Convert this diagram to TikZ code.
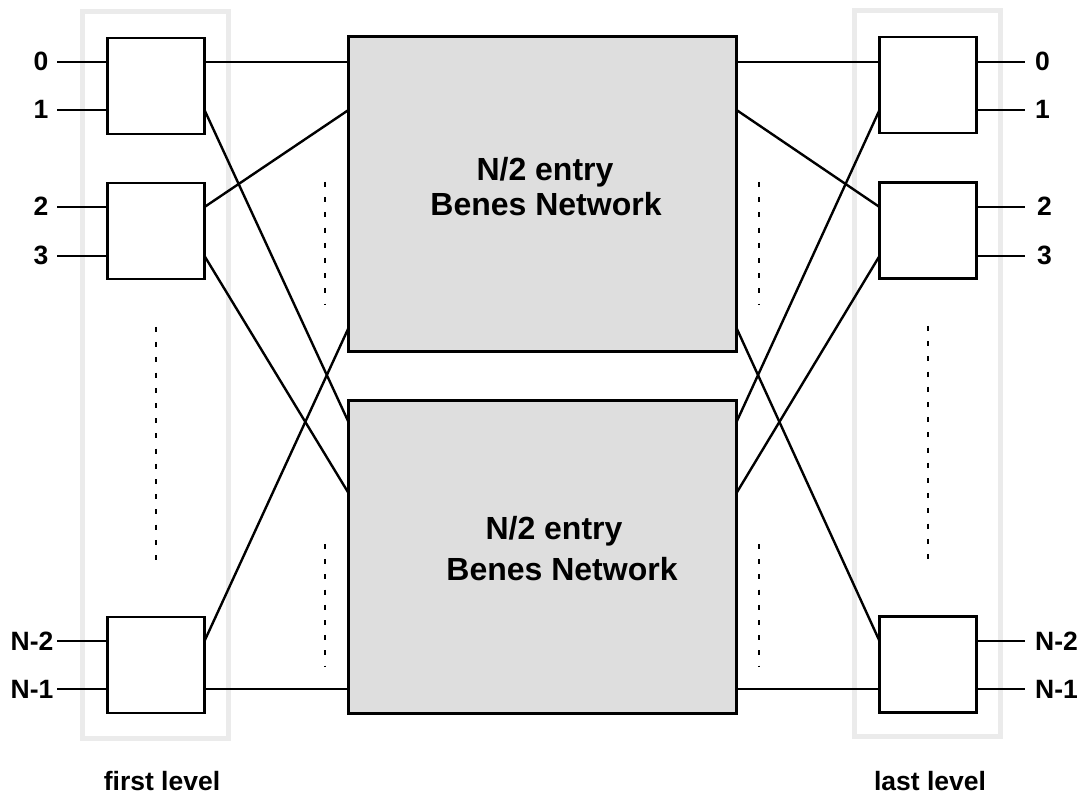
\documentclass[tikz,border=0pt]{standalone}
\usepackage{fontspec}
\setmainfont{Liberation Sans}
\begin{document}
\begin{tikzpicture}[x=1pt,y=-1pt,
  sw/.style={draw,line width=2.6pt,fill=white,minimum width=97pt,minimum height=96pt,inner sep=0pt,outer sep=0pt},
  big/.style={draw,line width=3pt,fill=black!13,minimum width=388pt,inner sep=0pt,outer sep=0pt},
  band/.style={draw=black!8,line width=5pt,inner sep=0pt,outer sep=0pt},
  wire/.style={line width=2.4pt},
  dots/.style={line width=2.6pt,dash pattern=on 5pt off 10.2pt},
  lbl/.style={font=\bfseries\fontsize{26.5}{31}\selectfont,inner sep=0pt,anchor=base},
  btxt/.style={font=\bfseries\fontsize{32}{37}\selectfont,inner sep=0pt,anchor=base}]
\useasboundingbox (0,0) rectangle (1082,794);

% level bands
\node[band,minimum width=146pt,minimum height=726pt] (bandL) at (155,375) {};
\node[band,minimum width=146pt,minimum height=726pt] (bandR) at (927.5,373.5) {};

% big networks
\node[big,minimum height=315pt] (B1) at (542.5,194.5) {};
\node[big,minimum height=313pt] (B2) at (542.5,556.5) {};
\node[btxt] (t1a) at (545,181) {N/2 entry};
\node[btxt] (t1b) at (546,216) {Benes Network};
\node[btxt] (t2a) at (554,539) {N/2 entry};
\node[btxt] (t2b) at (562,580) {Benes Network};

% switches
\node[sw] (L0) at (156,86) {};
\node[sw] (L1) at (156,231) {};
\node[sw] (LN) at (156,665) {};
\node[sw] (R0) at (928,85) {};
\node[sw] (R1) at (928,230.5) {};
\node[sw] (RN) at (928,664.5) {};

% terminal coordinates
\coordinate (i0) at (57,62);   \coordinate (i1) at (57,110);
\coordinate (i2) at (57,207);  \coordinate (i3) at (57,256);
\coordinate (iA) at (57,641);  \coordinate (iB) at (57,689);
\coordinate (o0) at (1025,62);   \coordinate (o1) at (1025,110);
\coordinate (o2) at (1025,207);  \coordinate (o3) at (1025,256);
\coordinate (oA) at (1025,641);  \coordinate (oB) at (1025,689);

% input / output wires
\foreach \p/\s in {i0/L0,i1/L0,i2/L1,i3/L1,iA/LN,iB/LN}
  \draw[wire] (\p) -- (\s.west |- \p);
\foreach \p/\s in {o0/R0,o1/R0,o2/R1,o3/R1,oA/RN,oB/RN}
  \draw[wire] (\s.east |- \p) -- (\p);

% first level to networks
\draw[wire] (L0.east |- 0,62)  -- (B1.west |- 0,62);
\draw[wire] (L0.east |- 0,110) -- (B2.west |- 0,422);
\draw[wire] (L1.east |- 0,207) -- (B1.west |- 0,110);
\draw[wire] (L1.east |- 0,256) -- (B2.west |- 0,493);
\draw[wire] (LN.east |- 0,641) -- (B1.west |- 0,328);
\draw[wire] (LN.east |- 0,689) -- (B2.west |- 0,689);

% networks to last level
\draw[wire] (B1.east |- 0,62)  -- (R0.west |- 0,62);
\draw[wire] (B1.east |- 0,110) -- (R1.west |- 0,207);
\draw[wire] (B1.east |- 0,328) -- (RN.west |- 0,641);
\draw[wire] (B2.east |- 0,422) -- (R0.west |- 0,110);
\draw[wire] (B2.east |- 0,493) -- (R1.west |- 0,256);
\draw[wire] (B2.east |- 0,689) -- (RN.west |- 0,689);

% dotted continuation marks
\draw[dots] (156,327) -- (156,570);
\draw[dots] (928,326) -- (928,569);
\draw[dots] (325,182) -- (325,305);
\draw[dots] (325,544) -- (325,667);
\draw[dots] (759,182) -- (759,305);
\draw[dots] (759,544) -- (759,667);

% port labels
\node[lbl] (l0) at (41,71) {0};
\node[lbl] (l1) at (41,119) {1};
\node[lbl] (l2) at (41,216) {2};
\node[lbl] (l3) at (41,265) {3};
\node[lbl] (lA) at (32,650) {N-2};
\node[lbl] (lB) at (32,698) {N-1};
\node[lbl,anchor=base west] (r0) at (1035,71) {0};
\node[lbl,anchor=base west] (r1) at (1035,119) {1};
\node[lbl,anchor=base west] (r2) at (1037,216) {2};
\node[lbl,anchor=base west] (r3) at (1037,265) {3};
\node[lbl,anchor=base west] (rA) at (1035,650) {N-2};
\node[lbl,anchor=base west] (rB) at (1035,698) {N-1};

% level captions
\node[lbl] (cap1) at (162,790) {first level};
\node[lbl] (cap2) at (930,790) {last level};
\end{tikzpicture}
\end{document}
